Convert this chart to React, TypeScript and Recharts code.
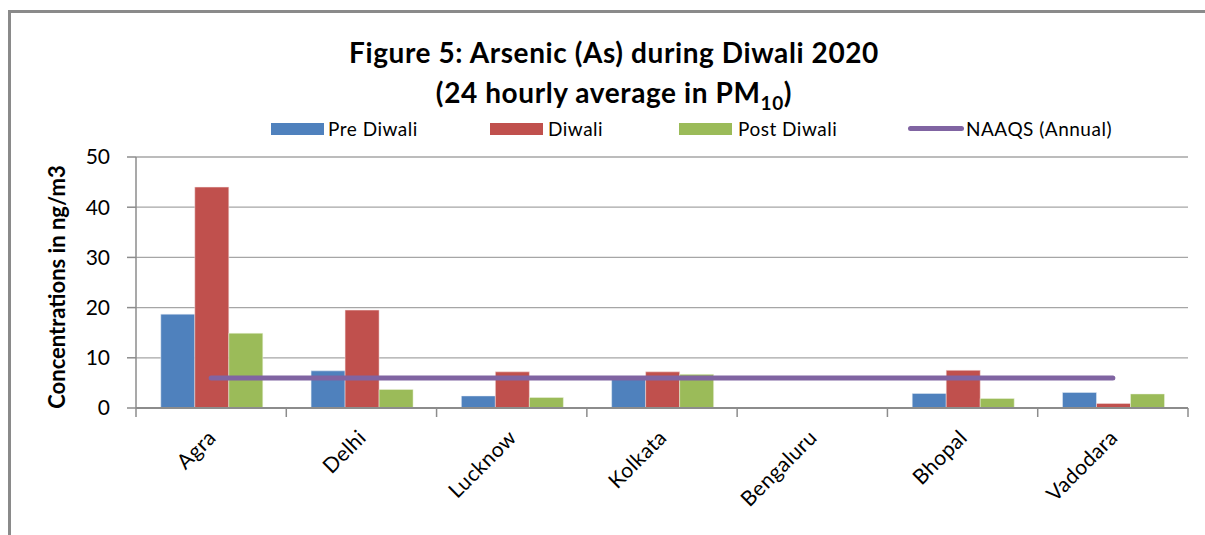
import React from "react";
import {
  ComposedChart,
  Bar,
  Line,
  XAxis,
  YAxis,
  CartesianGrid,
} from "recharts";

const cities = ["Agra", "Delhi", "Lucknow", "Kolkata", "Bengaluru", "Bhopal", "Vadodara"];
const preDiwali = [18.7, 7.4, 2.4, 6.3, 0, 2.9, 3.1];
const diwali = [44.0, 19.5, 7.2, 7.2, 0, 7.5, 0.9];
const postDiwali = [14.9, 3.7, 2.1, 6.7, 0, 1.9, 2.8];
const naaqs = [6, 6, 6, 6, 6, 6, 6];
const yTicks = [0, 10, 20, 30, 40, 50];
const boundaryTicks = [0, 1, 2, 3, 4, 5, 6, 7];

const data = cities.map((c, i) => ({
  city: c,
  idx: i + 0.5,
  pre: preDiwali[i],
  diwali: diwali[i],
  post: postDiwali[i],
  naaqs: naaqs[i],
}));

const FONT = "Lato, 'Open Sans', sans-serif";
const BLUE = "#4F81BD";
const RED = "#C0504D";
const GREEN = "#9BBB59";
const PURPLE = "#8064A2";
const AXIS = "#8c8c8c";

const CityTick = (props: any) => {
  const { x, y, payload } = props;
  const tx = x + 6;
  const ty = y + 30;
  return (
    <text
      x={tx}
      y={ty}
      transform={`rotate(-45, ${tx}, ${ty})`}
      textAnchor="end"
      fontFamily={FONT}
      fontSize={21}
      letterSpacing={0.4}
      fill="#000"
    >
      {payload.value}
    </text>
  );
};

const EmptyTick = () => <g />;

const YLabel = () => (
  <text
    x={65}
    y={287}
    transform="rotate(-90, 65, 287)"
    textAnchor="middle"
    fontFamily={FONT}
    fontWeight="bold"
    fontSize={22}
    fill="#000"
  >
    Concentrations in ng/m3
  </text>
);

const legendItems = [
  { label: "Pre Diwali", color: BLUE, swatch: 271, text: 328, type: "rect" },
  { label: "Diwali", color: RED, swatch: 490, text: 548, type: "rect" },
  { label: "Post Diwali", color: GREEN, swatch: 679, text: 738, type: "rect" },
  { label: "NAAQS (Annual)", color: PURPLE, swatch: 908, text: 966, type: "line" },
];

const LegendBlock = () => (
  <>
    {legendItems.map((it) => (
      <React.Fragment key={it.label}>
        {it.type === "rect" ? (
          <div style={{ position: "absolute", left: it.swatch, top: 123, width: 53, height: 12, background: it.color }} />
        ) : (
          <div style={{ position: "absolute", left: it.swatch, top: 126, width: 56, height: 5, borderRadius: 3, background: it.color }} />
        )}
        <div
          style={{
            position: "absolute",
            left: it.text,
            top: 119,
            fontFamily: FONT,
            fontSize: 19,
            lineHeight: "19px",
            letterSpacing: 0.5,
            color: "#000",
            whiteSpace: "nowrap",
          }}
        >
          {it.label}
        </div>
      </React.Fragment>
    ))}
  </>
);

export default function App() {
  return (
    <div style={{ position: "absolute", left: 0, top: 0, width: 1205, height: 535, background: "#fff", overflow: "hidden" }}>
      <div
        style={{
          position: "absolute",
          left: 8,
          top: 10,
          width: 1220,
          height: 560,
          borderLeft: "3px solid #8a8a8a",
          borderTop: "3px solid #8a8a8a",
        }}
      />
      <div
        style={{
          position: "absolute",
          left: 0,
          top: 32,
          width: 1228,
          textAlign: "center",
          fontFamily: FONT,
          fontWeight: "bold",
          fontSize: 28,
          lineHeight: "40px",
          letterSpacing: 0.6,
          color: "#000",
        }}
      >
        <div>Figure 5: Arsenic (As) during Diwali 2020</div>
        <div>
          (24 hourly average in PM<span style={{ fontSize: 19, position: "relative", top: 7 }}>10</span>)
        </div>
      </div>
      <LegendBlock />
      <div style={{ position: "absolute", left: 0, top: 0 }}>
        <ComposedChart
          width={1205}
          height={535}
          data={data}
          margin={{ top: 157, right: 17, bottom: 0, left: 0 }}
          barCategoryGap="16.5%"
          barGap={0}
        >
          <CartesianGrid xAxisId="cat" vertical={false} stroke="#a6a6a6" strokeWidth={1.3} />
          <XAxis
            xAxisId="bnd"
            type="number"
            dataKey="idx"
            domain={[0, 7]}
            ticks={boundaryTicks}
            height={1}
            tickSize={9}
            tickMargin={0}
            tickLine={{ stroke: AXIS, strokeWidth: 1.5 }}
            axisLine={{ stroke: AXIS, strokeWidth: 2 }}
            tick={<EmptyTick />}
            interval={0}
            allowDataOverflow
          />
          <XAxis
            xAxisId="cat"
            dataKey="city"
            height={126}
            tickLine={false}
            axisLine={false}
            tickSize={0}
            tickMargin={0}
            interval={0}
            tick={<CityTick />}
          />
          <YAxis
            width={136}
            domain={[0, 50]}
            ticks={yTicks}
            tickSize={9}
            tickMargin={17}
            tickLine={{ stroke: AXIS, strokeWidth: 1.5 }}
            axisLine={{ stroke: AXIS, strokeWidth: 1.5 }}
            tick={{ fontFamily: FONT, fontSize: 21, fill: "#000" }}
            label={<YLabel />}
          />
          <Bar xAxisId="cat" dataKey="pre" name="Pre Diwali" fill={BLUE} stroke="#e8eef7" strokeWidth={0.5} isAnimationActive={false} />
          <Bar xAxisId="cat" dataKey="diwali" name="Diwali" fill={RED} stroke="#f5e3e3" strokeWidth={0.5} isAnimationActive={false} />
          <Bar xAxisId="cat" dataKey="post" name="Post Diwali" fill={GREEN} stroke="#eef4e3" strokeWidth={0.5} isAnimationActive={false} />
          <Line
            xAxisId="cat"
            dataKey="naaqs"
            name="NAAQS (Annual)"
            stroke={PURPLE}
            strokeWidth={5}
            strokeLinecap="round"
            dot={false}
            activeDot={false}
            isAnimationActive={false}
          />
        </ComposedChart>
      </div>
    </div>
  );
}
